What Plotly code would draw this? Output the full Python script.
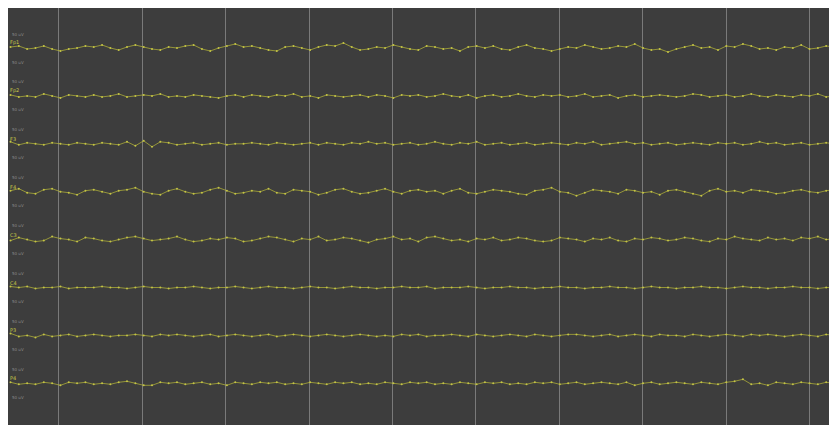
import numpy as np
import plotly.graph_objects as go

channels = ["Fp1", "Fp2", "F3", "F4", "C3", "C4", "P3", "P4"]
scale_labels = ["50 uV", "50 uV"]
grid_seconds = [1, 2, 3, 4, 5, 6, 7, 8, 9, 10]

ch1 = [1,2,-1,0,2,-1,-3,-1,0,2,1,3,0,-2,1,3,1,-1,-2,1,0,2,3,-1,-3,0,2,4,1,2,0,-2,-3,1,2,0,-2,1,3,2,
       5,1,-2,-1,1,0,3,1,-1,-2,2,1,-1,0,-3,1,2,0,2,-1,-2,1,3,0,-1,-3,-1,1,0,3,1,-1,0,2,1,4,0,-2,-1,-4,
       -1,1,3,0,1,-2,2,1,4,2,-1,0,-2,1,0,3,-1,0,2,1]
ch2 = [1,-1,0,-1,2,0,-2,1,0,-1,1,-1,0,2,-1,0,1,0,2,-1,0,-1,1,0,-1,-2,0,1,-1,1,0,-1,1,0,2,-1,0,-2,1,0,
       -1,0,1,-1,1,0,-2,1,0,1,-1,0,2,0,-1,1,-2,0,1,-1,0,2,0,-1,1,0,1,-1,0,2,-1,0,1,-2,0,1,-1,0,1,0,
       -1,0,2,1,-1,0,1,-1,0,2,0,-1,1,0,-1,1,0,2,-1,0]
ch3 = [2,-1,1,0,-1,1,0,-1,1,0,-1,1,0,-1,2,-2,3,-3,2,1,-1,0,1,-1,0,1,-1,0,0,1,0,-1,1,0,-1,0,1,-1,1,0,
       -1,1,0,2,0,1,-1,0,1,-1,0,2,0,-1,1,0,2,-1,0,1,-1,0,1,-1,0,1,0,-1,1,0,2,-1,0,1,2,0,1,-1,0,1,
       -1,0,1,0,-1,1,0,1,-1,0,2,0,1,-1,0,1,-1,0,1,0]
ch4 = [1,3,-1,-2,2,3,0,-1,-3,1,2,0,-2,1,2,4,0,-2,-3,1,3,0,-2,-1,2,4,1,-2,-1,1,0,3,-1,-2,2,1,0,-3,-1,2,
       3,0,-2,-1,1,3,0,-2,1,2,0,1,-2,1,3,-1,-2,0,2,1,0,-2,-3,1,2,4,0,-1,-4,-1,2,1,0,-2,2,1,-1,0,-3,1,
       2,0,-2,-4,1,3,0,1,-1,2,1,0,-2,-1,1,2,0,-1,1,2]
ch5 = [-1,2,0,-2,-1,3,1,0,-2,2,1,-1,-2,0,2,3,1,-1,0,1,3,0,-2,-1,1,0,2,1,-2,-1,1,3,2,0,-2,1,0,3,-1,0,
       2,1,-1,-3,0,1,3,0,1,-2,2,3,1,-1,0,-2,1,0,2,-1,0,2,1,-1,-2,-1,2,1,0,-2,1,0,2,-1,-2,1,0,2,1,-1,
       0,2,1,-1,-2,1,0,3,1,0,-1,2,0,1,-1,2,1,3,0,1]
ch6 = [1,0,1,-1,0,0,1,-1,0,0,0,1,0,0,-1,0,1,0,0,-1,0,0,1,0,-1,0,0,1,0,-1,0,1,0,0,-1,0,1,0,0,-1,
       0,1,0,0,-1,0,0,1,0,0,1,-1,0,0,0,1,0,-1,0,0,1,0,0,-1,0,0,1,0,0,-1,0,0,1,0,0,-1,0,1,0,0,
       -1,0,0,1,0,0,-1,0,1,0,0,-1,0,0,1,0,0,-1,0,0]
ch7 = [2,-1,0,-2,1,-1,0,1,-1,0,1,0,-1,0,0,1,0,-1,1,0,1,0,-1,0,1,-1,0,1,0,-1,0,1,-1,0,1,0,-1,0,1,0,
       -1,0,1,0,-1,0,-1,1,0,1,-1,0,0,1,0,-1,1,0,-1,0,1,0,-1,1,0,-1,0,1,1,0,-1,0,1,-1,0,1,0,-1,1,0,
       0,-1,1,0,-1,0,1,0,-1,1,0,1,0,-1,0,1,0,-1,1,0]
ch8 = [1,-1,0,-1,1,0,-2,1,0,1,-1,0,-1,1,2,0,-2,-2,1,0,1,-1,0,1,-1,0,-2,1,0,-1,1,0,1,-1,0,-1,1,0,-1,1,
       0,1,-1,0,-1,1,0,-1,1,0,1,-1,0,-1,1,0,-1,1,0,1,-1,0,-1,1,0,1,-1,0,1,-1,0,1,0,-1,1,-2,0,1,-1,0,
       1,0,-1,1,0,-1,1,2,4,-1,0,-2,1,0,-1,1,0,-1,1,0]

signals = [ch1, ch2, ch3, ch4, ch5, ch6, ch7, ch8]

t_start, t_end = 0.39, 10.33
n = len(ch1)
time = np.linspace(0.42, 10.3, n)

row_px = 47.9
gain = 1.0 / row_px  # 1 unit = 1 px

fig = go.Figure()
for i, (name, sig) in enumerate(zip(channels, signals)):
    y = [i - v * gain for v in sig]
    fig.add_trace(go.Scatter(
        x=time, y=y, mode="lines+markers",
        line=dict(color="rgba(185,185,55,0.7)", width=1),
        marker=dict(color="#c4c446", size=2),
        hoverinfo="skip", showlegend=False,
    ))
    fig.add_annotation(x=t_start, y=i, xref="x", yref="y", text=name,
                       showarrow=False, xanchor="left", yanchor="bottom",
                       font=dict(size=5, color="#c8c848", family="DejaVu Sans"))
    fig.add_annotation(x=t_start + 0.02, y=i - 14 / row_px, xref="x", yref="y",
                       text=scale_labels[0], showarrow=False, xanchor="left",
                       font=dict(size=4, color="#8a8a8a", family="DejaVu Sans"))
    fig.add_annotation(x=t_start + 0.02, y=i + 14 / row_px, xref="x", yref="y",
                       text=scale_labels[1], showarrow=False, xanchor="left",
                       font=dict(size=4, color="#8a8a8a", family="DejaVu Sans"))

# plot area spans page y 8..425 (body margin 8px)
y_top = -(48 - 8) / row_px
y_bot = (425 - 48) / row_px

fig.update_layout(
    width=829, height=417,
    margin=dict(l=0, r=0, t=0, b=0),
    paper_bgcolor="white",
    plot_bgcolor="#3d3d3d",
    xaxis=dict(range=[t_start, t_end], tickvals=grid_seconds, showticklabels=False,
               showgrid=True, gridcolor="#7a7a7a", gridwidth=1, zeroline=False,
               showline=False, fixedrange=True),
    yaxis=dict(range=[y_bot, y_top], showticklabels=False, showgrid=False,
               zeroline=False, showline=True, linecolor="#222222", linewidth=1,
               mirror=False, fixedrange=True),
)

fig.write_html("out.html")
